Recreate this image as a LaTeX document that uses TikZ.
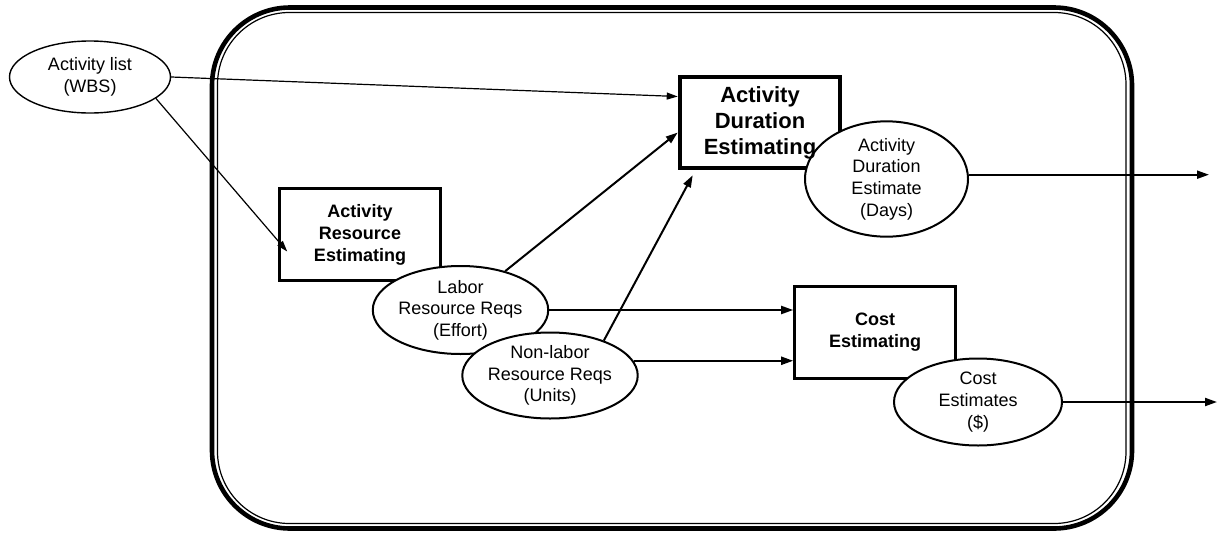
\documentclass[tikz,border=0pt]{standalone}
\usepackage{fontspec}
\setmainfont{Liberation Sans}
\usetikzlibrary{shapes.geometric,arrows.meta,calc}

\begin{document}
\begin{tikzpicture}[x=1pt,y=-1pt,
  every node/.style={font=\fontsize{18}{21.6}\selectfont, align=center, inner sep=0pt},
  procbox/.style={draw, line width=2.6pt, fill=white, minimum width=161pt, minimum height=92pt,
    font=\bfseries\fontsize{18}{22}\selectfont},
  mainbox/.style={procbox, line width=4.6pt, minimum width=160pt, minimum height=91pt},
  maintitle/.style={font=\bfseries\fontsize{22}{26}\selectfont},
  dataell/.style={ellipse, draw, line width=2pt, fill=white, minimum width=162pt, minimum height=88pt},
  flow/.style={line width=2pt, -{Triangle[length=12pt,width=8pt]}},
  thinflow/.style={line width=1.2pt, -{Triangle[length=11pt,width=7pt]}}
]
\useasboundingbox (0,0) rectangle (1218,533);

% double-lined process boundary
\draw[line width=4.6pt, rounded corners=78pt] (212,7.5) rectangle (1132,528.5);
\draw[line width=1.2pt, rounded corners=72pt] (217.5,12.5) rectangle (1126,523.5);

% processes
\node[mainbox] (ade) at (760,122.5) {};
\node[procbox] (are) at (360,234.5) {Activity\\Resource\\Estimating};
\node[procbox] (cost) at (875,332.5) {Cost\\Estimating};

% inputs and outputs
\node[dataell, line width=1.4pt, minimum width=161pt, minimum height=72pt] (alist) at (90,77) {Activity list\\(WBS)};
\node[dataell, minimum width=163pt, minimum height=90pt] (adeest) at (886.5,179) {Activity\\Duration\\Estimate\\(Days)};
\node[dataell, minimum width=163pt, minimum height=88pt] (labor) at (460.5,310) {Labor\\Resource Reqs\\(Effort)};
\node[dataell, minimum width=162pt, minimum height=86pt] (nonlabor) at (550,375.5) {Non-labor\\Resource Reqs\\(Units)};
\node[dataell, minimum width=168pt, minimum height=87pt] (costest) at (978,402) {Cost\\Estimates\\(\$)};

% title of the main process, set above the overlapping estimate
\node[maintitle] (adetitle) at (ade.center) {Activity\\Duration\\Estimating};

% free ends of the outgoing flows
\coordinate (out1) at (1209,175);
\coordinate (out2) at (1217,398);

% flows
\draw[thinflow] (alist.east) -- ([yshift=26pt]ade.west);
\draw[thinflow] (alist.342) -- ([xshift=9pt,yshift=-17pt]are.west);
\draw[flow] (labor.41) -- ([yshift=-10pt]ade.west);
\draw[flow] (nonlabor.33) -- ([xshift=15pt,yshift=-5pt]ade.south west);
\draw[flow] (labor.east) -- (labor.east -| cost.west);
\draw[flow] (nonlabor.10) -- (nonlabor.10 -| cost.west);
\draw[flow] (adeest.3) -- (adeest.3 -| out1);
\draw[flow] (costest.east) -- (costest.east -| out2);
\end{tikzpicture}
\end{document}
